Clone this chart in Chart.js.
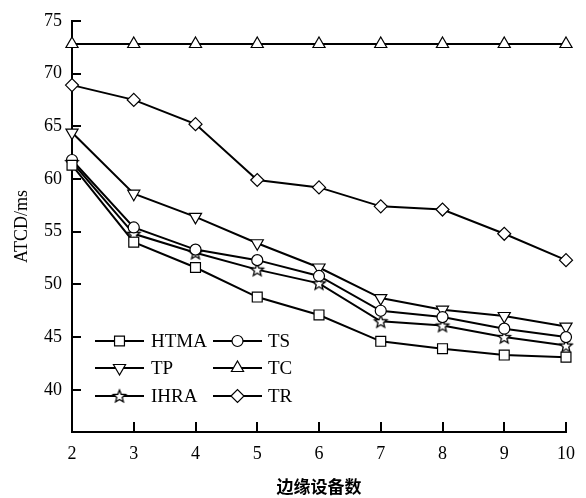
<!DOCTYPE html>
<html>
<head>
<meta charset="utf-8">
<script src="https://cdn.jsdelivr.net/npm/chart.js@4/dist/chart.umd.min.js"></script>
<style>
  html, body { margin: 0; padding: 0; background: #fff; }
  #wrap { width: 586px; height: 498px; }
</style>
</head>
<body>
<div id="wrap"><canvas id="c" width="586" height="498"></canvas></div>
<script>
// Number of edge devices on the x axis
const categories = ['2', '3', '4', '5', '6', '7', '8', '9', '10'];
// Average task completion delay (ms) per scheme
const htma = [61.3, 54.0, 51.6, 48.8, 47.1, 44.6, 43.9, 43.3, 43.1];
const ts   = [61.8, 55.4, 53.3, 52.3, 50.8, 47.5, 46.9, 45.8, 45.0];
const tp   = [64.4, 58.6, 56.4, 53.9, 51.6, 48.7, 47.6, 47.0, 46.0];
const tc   = [72.8, 72.8, 72.8, 72.8, 72.8, 72.8, 72.8, 72.8, 72.8];
const ihra = [61.6, 54.8, 53.0, 51.4, 50.1, 46.5, 46.1, 45.0, 44.2];
const tr   = [68.9, 67.5, 65.2, 59.9, 59.2, 57.4, 57.1, 54.8, 52.3];
const yTickValues = [40, 45, 50, 55, 60, 65, 70, 75];

const SERIF = "'Liberation Serif', 'Times New Roman', serif";

// Outlined five-point star used as a point marker
function makeStar() {
  const c = document.createElement('canvas');
  c.width = 18; c.height = 18;
  const g = c.getContext('2d');
  g.beginPath();
  for (let i = 0; i < 10; i++) {
    const r = i % 2 ? 2.9 : 6.6;
    const a = -Math.PI / 2 + i * Math.PI / 5;
    g.lineTo(9 + r * Math.cos(a), 9.6 + r * Math.sin(a));
  }
  g.closePath();
  g.fillStyle = '#fff';
  g.fill();
  g.strokeStyle = '#000';
  g.lineWidth = 1.3;
  g.stroke();
  return c;
}
const starImg = makeStar();

function series(label, data, style, radius, rotation) {
  return {
    label, data,
    borderColor: '#000',
    borderWidth: 2,
    backgroundColor: '#fff',
    pointStyle: style,
    pointRadius: radius,
    pointHoverRadius: radius,
    pointRotation: rotation || 0,
    pointBorderColor: '#000',
    pointBackgroundColor: '#fff',
    pointBorderWidth: 1.2,
    tension: 0,
    fill: false,
    clip: false
  };
}

const datasets = [
  series('HTMA', htma, 'rect', 7),
  series('TS', ts, 'circle', 5.5),
  series('TP', tp, 'triangle', 7, 180),
  series('TC', tc, 'triangle', 7),
  series('IHRA', ihra, starImg, 7),
  series('TR', tr, 'rectRot', 6.5)
];

// Inward tick marks on both axes
const inwardTicks = {
  id: 'inwardTicks',
  beforeDatasetsDraw(chart) {
    const { ctx, scales: { x, y }, chartArea } = chart;
    ctx.save();
    ctx.strokeStyle = '#000';
    ctx.lineWidth = 2;
    ctx.beginPath();
    yTickValues.forEach(v => {
      const py = Math.round(y.getPixelForValue(v));
      ctx.moveTo(chartArea.left, py);
      ctx.lineTo(chartArea.left + 9, py);
    });
    for (let i = 1; i < categories.length; i++) {
      const px = Math.round(x.getPixelForValue(i));
      ctx.moveTo(px, chartArea.bottom);
      ctx.lineTo(px, chartArea.bottom - 10);
    }
    ctx.stroke();
    ctx.restore();
  }
};

// Two-column legend placed inside the plot area
const innerLegend = {
  id: 'innerLegend',
  afterDatasetsDraw(chart) {
    const { ctx } = chart;
    const cols = [{ x0: 95, x1: 144, text: 151 }, { x0: 213, x1: 262, text: 268 }];
    const rows = [341, 368, 396];
    ctx.save();
    chart.data.datasets.forEach((ds, i) => {
      const col = cols[i % 2];
      const ry = rows[Math.floor(i / 2)];
      ctx.strokeStyle = '#000';
      ctx.lineWidth = 2;
      ctx.beginPath();
      ctx.moveTo(col.x0, ry);
      ctx.lineTo(col.x1, ry);
      ctx.stroke();
      ctx.fillStyle = '#fff';
      ctx.lineWidth = 1.2;
      Chart.helpers.drawPoint(ctx, {
        pointStyle: ds.pointStyle,
        radius: ds.pointRadius,
        rotation: ds.pointRotation,
        borderWidth: 1.2
      }, (col.x0 + col.x1) / 2, ry);
      ctx.fillStyle = '#000';
      ctx.font = '19px ' + SERIF;
      ctx.textBaseline = 'middle';
      ctx.textAlign = 'left';
      ctx.fillText(ds.label, col.text, ry + 1);
    });
    ctx.restore();
  }
};

new Chart(document.getElementById('c'), {
  type: 'line',
  data: { labels: categories, datasets },
  plugins: [inwardTicks, innerLegend],
  options: {
    responsive: false,
    devicePixelRatio: 1,
    animation: false,
    events: [],
    layout: { padding: { left: 0, right: 20, top: 19, bottom: 0 } },
    plugins: { legend: { display: false }, tooltip: { enabled: false } },
    scales: {
      x: {
        type: 'category',
        offset: false,
        grid: { display: false, drawTicks: false },
        border: { display: true, color: '#000', width: 2 },
        ticks: { color: '#000', font: { family: SERIF, size: 18 }, padding: 11, maxRotation: 0, autoSkip: false },
        title: {
          display: true,
          text: '边缘设备数',
          color: '#000',
          font: { family: "'Noto Sans CJK SC', sans-serif", size: 17, weight: '600' },
          padding: { top: 0, bottom: 1 }
        },
        afterFit(scale) { scale.height = 66; }
      },
      y: {
        min: 36,
        max: 75,
        grid: { display: false, drawTicks: false },
        border: { display: true, color: '#000', width: 2 },
        ticks: { color: '#000', font: { family: SERIF, size: 18 }, padding: 10 },
        afterBuildTicks(scale) { scale.ticks = yTickValues.map(v => ({ value: v })); },
        title: {
          display: true,
          text: 'ATCD/ms',
          color: '#000',
          font: { family: SERIF, size: 18 },
          padding: { top: 11, bottom: 0 }
        },
        afterFit(scale) { scale.width = 72; }
      }
    }
  }
});
</script>
</body>
</html>
